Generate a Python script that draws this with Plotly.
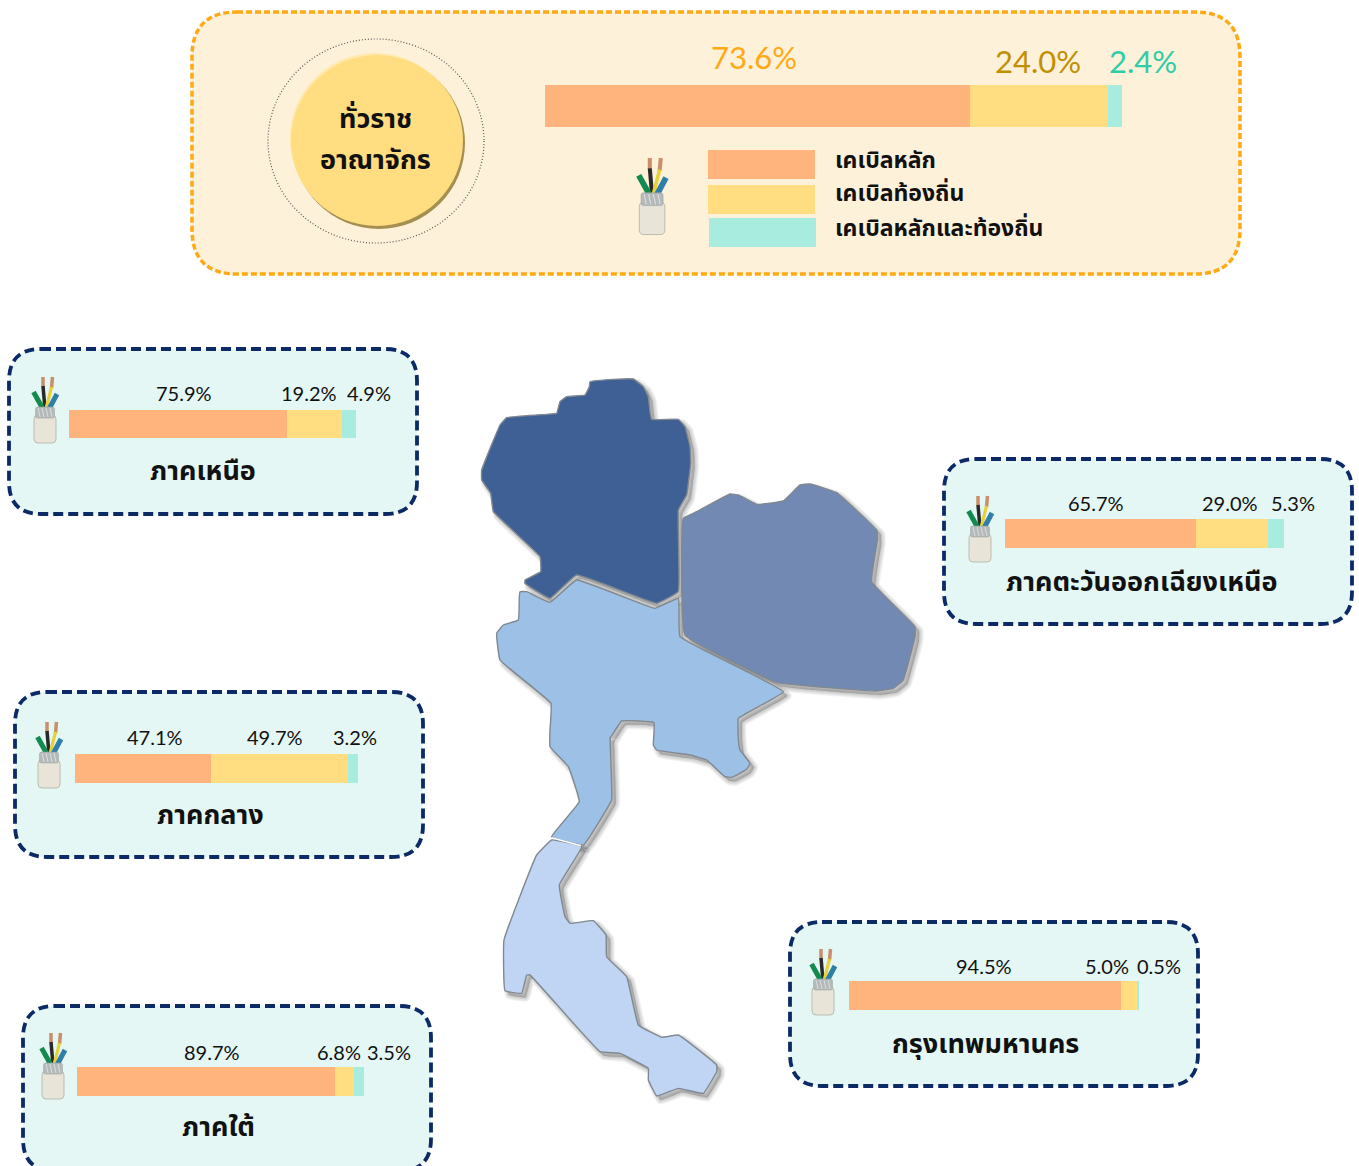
import plotly.graph_objects as go

W, H = 1359, 1166

# ---------- data ----------
series_names = ["เคเบิลหลัก", "เคเบิลท้องถิ่น", "เคเบิลหลักและท้องถิ่น"]
series_colors = ["#FFB47D", "#FFDD80", "#A7ECDF"]
regions = ["ทั่วราชอาณาจักร", "ภาคเหนือ", "ภาคตะวันออกเฉียงเหนือ", "ภาคกลาง", "ภาคใต้", "กรุงเทพมหานคร"]
# percentages as printed on the chart
main_cable = [73.6, 75.9, 65.7, 47.1, 89.7, 94.5]
local_cable = [24.0, 19.2, 29.0, 49.7, 6.8, 5.0]
both_cable = [2.4, 4.9, 5.3, 3.2, 3.5, 0.5]
# segment lengths as actually drawn in the picture (they differ slightly from the printed labels)
main_drawn = [73.6, 75.9, 68.5, 48.1, 89.9, 93.8]
local_drawn = [24.0, 19.2, 25.8, 48.4, 6.6, 5.8]
both_drawn = [2.4, 4.9, 5.7, 3.5, 3.5, 0.4]

# ---------- layout (pixels) ----------
bar_boxes = [(545, 1122, 85, 127), (69, 356, 410, 438), (1005, 1284, 519, 548),
             (75, 358, 754, 783), (77, 364, 1067, 1096), (849, 1139, 981, 1010)]
label_x = [(754, 1038, 1143), (184, 309, 369), (1096, 1230, 1293),
           (155, 275, 355), (212, 339, 389), (984, 1107, 1159)]
label_y = [57, 393, 503, 737, 1052, 966]
panels = [(9, 349, 417, 514), (944, 459, 1352, 624), (15, 692, 423, 857),
          (23, 1006, 431, 1171), (790, 922, 1198, 1086)]
title_pos = [(203, 471), (1141, 582), (210, 815), (218, 1127), (985, 1044)]
icon_pos = [(32, 377), (967, 496), (36, 722), (40, 1033), (810, 949)]

THAI = "Noto Sans Thai, Noto Sans Thai Looped, Loma, Garuda, Noto Sans, DejaVu Sans, sans-serif"
NUM = "Lato, Noto Sans, sans-serif"

fig = go.Figure()
shapes, annotations = [], []


def rrect(x0, y0, x1, y1, r):
    return (f"M{x0+r},{y0} L{x1-r},{y0} Q{x1},{y0} {x1},{y0+r} L{x1},{y1-r} Q{x1},{y1} {x1-r},{y1} "
            f"L{x0+r},{y1} Q{x0},{y1} {x0},{y1-r} L{x0},{y0+r} Q{x0},{y0} {x0+r},{y0} Z")


def add_shape(**kw):
    shapes.append(dict(xref="x", yref="y", **kw))


def add_text(x, y, text, size, color="#111111", family=THAI, bold=True):
    annotations.append(dict(xref="x", yref="y", x=x, y=y, text=f"<b>{text}</b>" if bold else text, showarrow=False,
                            xanchor="center", yanchor="middle",
                            font=dict(family=family, size=size, color=color)))


# panels
add_shape(type="path", path=rrect(192, 12, 1240, 274, 45), fillcolor="#FEF1DA",
          line=dict(color="#FFA915", width=3.5, dash="6px,3px"), layer="below")
for p in panels:
    add_shape(type="path", path=rrect(*p, 32), fillcolor="#E4F7F4",
              line=dict(color="#0C2A66", width=3.8, dash="10px,5px"), layer="below")

# circle badge
add_shape(type="circle", x0=268, x1=484, y0=39, y1=243, fillcolor="rgba(0,0,0,0)",
          line=dict(color="#555555", width=1.2, dash="1px,2px"))
add_shape(type="circle", x0=293, x1=465, y0=57, y1=229, fillcolor="#A58F50", line_width=0)
add_shape(type="circle", x0=290, x1=460, y0=53, y1=224, fillcolor="#FFE9AC", line_width=0)
add_shape(type="circle", x0=291, x1=463, y0=55, y1=226, fillcolor="#FFDD80", line_width=0)
add_text(375, 119, "ทั่วราช", 27)
add_text(375, 160, "อาณาจักร", 27)


def icon(x0, y0, s=1.0):
    def P(x, y):
        return x0 + x * s, y0 + y * s

    def seg(pts, color, width):
        d = "M" + " L".join("%.1f,%.1f" % P(*pt) for pt in pts)
        add_shape(type="path", path=d, line=dict(color=color, width=width * s))

    seg([(11, 0), (11, 10)], "#C98F6A", 3.5)
    seg([(20.5, 0), (19.5, 11)], "#C98F6A", 3.5)
    seg([(11, 9), (13, 32)], "#2A2A2A", 3.5)
    seg([(19.5, 10), (14, 32)], "#E6D33C", 3.2)
    seg([(1.5, 15), (11, 32)], "#138A4F", 5)
    seg([(25, 17), (17, 32)], "#2F7FA8", 5)
    x, y = P(2, 30)
    xb, yb = P(24, 66)
    add_shape(type="path", path=rrect(x, y + 8 * s, xb, yb, 4 * s), fillcolor="#E9E4D8",
              line=dict(color="#B9BDB0", width=1))
    add_shape(type="path", path=rrect(x + 1.5 * s, y, xb - 1.5 * s, y + 11 * s, 2 * s), fillcolor="#B4B9B9",
              line=dict(color="#9A9F9F", width=0.5))
    for hx in (6, 10, 14, 18):
        seg([(hx, 31), (hx + 2, 40)], "#E4E6E6", 0.8)


icon(637, 158, 1.16)
for pos in icon_pos:
    icon(*pos)

# legend
legend_boxes = [(708, 150, 815, 179), (708, 185, 815, 214), (709, 218, 816, 247)]
legend_text_y = [161, 194, 229]
for box, color, name, ty in zip(legend_boxes, series_colors, series_names, legend_text_y):
    add_shape(type="rect", x0=box[0], y0=box[1], x1=box[2], y1=box[3], fillcolor=color, line_width=0)
    annotations.append(dict(xref="x", yref="y", x=833, y=ty, text=f"<b>{name}</b>", showarrow=False,
                            xanchor="left", yanchor="middle",
                            font=dict(family=THAI, size=23, color="#111111")))

# ---------- map (decorative outlines) ----------
def z2(pts):
    return [(470 + a / 3, 370 + b / 3) for a, b in pts]


def z3(pts):
    return [(490 + a / 3, 730 + b / 3) for a, b in pts]


north = z2([(360, 35), (430, 28), (490, 27), (520, 50), (535, 80), (540, 125), (545, 148), (625, 148), (645, 170),
            (660, 230), (662, 280), (655, 340), (650, 375), (625, 420), (625, 665), (560, 700), (320, 615), (240, 685),
            (165, 640), (165, 630), (212, 605), (210, 560), (70, 425), (62, 370), (35, 330), (35, 300), (90, 165),
            (110, 143), (230, 133), (260, 130), (270, 95), (290, 80), (345, 75), (358, 50)])
northeast = z2([(640, 445), (680, 425), (780, 372), (805, 375), (860, 403), (940, 393), (990, 345), (1020, 342),
                (1100, 368), (1220, 480), (1222, 510), (1205, 635), (1335, 770), (1335, 800), (1300, 930), (1270, 955),
                (1220, 963), (920, 937), (645, 795)])
central = (z2([(150, 665), (170, 665), (240, 697), (320, 630), (555, 715), (625, 685), (630, 800), (940, 965),
               (805, 1045), (805, 1105)])
           + z3([(750, 60), (780, 100), (770, 118), (725, 142), (705, 140), (650, 90), (600, 75), (500, 60), (490, 45)])
           + z2([(552, 1058), (455, 1053), (420, 1105)])
           + z3([(360, 20), (365, 170), (365, 210), (280, 345), (185, 320), (268, 215), (235, 110), (180, 50), (180, 0)])
           + z2([(243, 1000), (90, 870), (80, 790), (100, 765), (145, 750), (148, 680)]))
south = z3([(185, 330), (275, 350), (208, 465), (225, 560), (240, 580), (310, 572), (348, 615), (350, 680), (410, 740),
            (445, 885), (515, 922), (565, 915), (680, 1005), (680, 1025), (640, 1090), (565, 1075), (500, 1098),
            (475, 1050), (475, 1015), (390, 970), (330, 965), (120, 735), (110, 735), (95, 790), (45, 782), (42, 630),
            (140, 375)])
areas = [(north, "#3F6094"), (northeast, "#7289B3"), (central, "#9DC0E6"), (south, "#BFD5F3")]


def poly(pts, dx=0, dy=0, color="#000", lcolor="#000", w=0):
    xs = [a + dx for a, _ in pts] + [pts[0][0] + dx]
    ys = [b + dy for _, b in pts] + [pts[0][1] + dy]
    fig.add_trace(go.Scatter(x=xs, y=ys, mode="lines", fill="toself", hoverinfo="skip", showlegend=False,
                             fillcolor=color, xaxis="x", yaxis="y",
                             line=dict(color=lcolor, width=w, shape="spline", smoothing=0.25)))


for pts, _ in areas:
    for w in (9, 7, 5, 3, 1):
        poly(pts, 4, 4, color="rgba(40,40,40,0.05)", lcolor="rgba(40,40,40,0.055)", w=w)
for pts, color in areas:
    poly(pts, color=color, lcolor="#808890", w=1.4)

bx0, by0 = z3([(185, 323)])[0]
bx1, by1 = z3([(273, 347)])[0]
add_shape(type="line", x0=bx0, y0=by0, x1=bx1, y1=by1, line=dict(color="white", width=1.6))

# ---------- bars ----------
layout_axes = {}
for i, (box, name) in enumerate(zip(bar_boxes, regions)):
    n = i + 2
    x0, x1, y0, y1 = box
    layout_axes[f"xaxis{n}"] = dict(domain=[x0 / W, x1 / W], range=[0, 100], visible=False, fixedrange=True,
                                    anchor=f"y{n}")
    layout_axes[f"yaxis{n}"] = dict(domain=[1 - y1 / H, 1 - y0 / H], range=[-0.5, 0.5], visible=False,
                                    fixedrange=True, anchor=f"x{n}")
    drawn = (main_drawn[i], local_drawn[i], both_drawn[i])
    vals = (main_cable[i], local_cable[i], both_cable[i])
    for sname, color, d, v in zip(series_names, series_colors, drawn, vals):
        fig.add_trace(go.Bar(x=[d], y=[0], name=sname, orientation="h", width=1, marker=dict(color=color, line_width=0),
                             xaxis=f"x{n}", yaxis=f"y{n}", showlegend=False,
                             hovertemplate=f"{name}<br>{sname}: {v}%<extra></extra>"))

# percentage labels
national_colors = ["#FFA915", "#C09000", "#2ECDA7"]
for i in range(6):
    vals = (main_cable[i], local_cable[i], both_cable[i])
    for j, v in enumerate(vals):
        if i == 0:
            ly = label_y[0] + (0 if j == 0 else 4)
            add_text(label_x[i][j], ly, f"{v:.1f}%", 31, national_colors[j], NUM, bold=False)
        else:
            add_text(label_x[i][j], label_y[i], f"{v:.1f}%", 20, "#111111", NUM, bold=False)

for (tx, ty), name in zip(title_pos, regions[1:]):
    add_text(tx, ty, name, 27)

fig.update_layout(
    width=W, height=H, margin=dict(l=0, r=0, t=0, b=0), autosize=False,
    paper_bgcolor="white", plot_bgcolor="rgba(0,0,0,0)", barmode="stack", showlegend=False,
    xaxis=dict(domain=[0, 1], range=[0, W], visible=False, fixedrange=True),
    yaxis=dict(domain=[0, 1], range=[H, 0], visible=False, fixedrange=True),
    shapes=shapes, annotations=annotations, **layout_axes,
)

fig.write_html("out.html", config=dict(displayModeBar=False),
               post_script="document.body.style.margin='0';document.documentElement.style.overflow='hidden';")
